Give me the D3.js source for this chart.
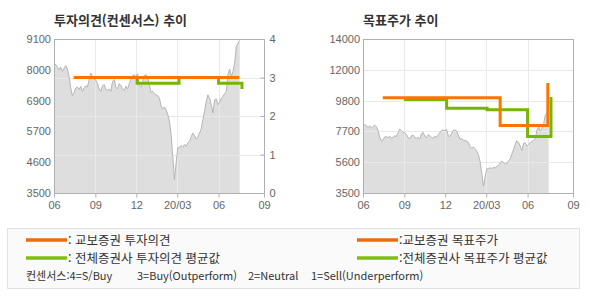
<!DOCTYPE html>
<html lang="ko">
<head>
<meta charset="utf-8">
<script src="https://cdn.jsdelivr.net/npm/d3@7"></script>
<style>
body { margin: 0; background: #fff; }
svg text { font-family: "Liberation Sans", Arial, sans-serif; }
svg .kr { font-family: "Noto Sans CJK KR", "Noto Sans", sans-serif; }
.axis path { display: none; }
.axis text { fill: #666; font-size: 11px; }
</style>
</head>
<body>
<svg id="chart" width="590" height="300"></svg>
<script>
// --- data ---
var priceStart = "2019-06-01";
var priceStepDays = 3.72;
var priceValues = [
  8230, 8170, 8080, 7980, 8080, 7920, 8040, 8130, 8010, 7740,
  7320, 7040, 7140, 7320, 7350, 7260, 7380, 7200, 7320, 7400,
  7350, 7620, 7860, 7740, 7640, 7600, 7480, 7280, 7200, 7400,
  7440, 7280, 7230, 7280, 7200, 7560, 7620, 7350, 7280, 7480,
  7400, 7280, 7230, 7380, 7280, 7480, 7640, 7770, 7800, 7740,
  7840, 7400, 7350, 7560, 7770, 7800, 7720, 7440, 7160, 7200,
  7110, 7070, 7040, 6950, 6680, 6550, 6630, 6530, 6350, 6110,
  5620, 4830, 3980, 4590, 5140, 5170, 5220, 5170, 5260, 5200,
  5320, 5380, 5540, 5680, 5580, 5460, 5540, 5680, 5830, 6170,
  6470, 6830, 7070, 6950, 6710, 6410, 6890, 6920, 6710, 6800,
  6950, 7010, 7110, 7200, 7800, 8010, 7740, 7920, 8230, 8830,
  8950, 9050
];

// 투자의견 (rating, 1-4)
var kyoboRatingDates = ["2019-07-15", "2020-07-17"];
var kyoboRatingValues = [3, 3];
var consRatingDates = ["2019-07-15", "2019-12-03", "2020-03-05", "2020-06-01", "2020-07-23"];
var consRatingValues = [3, 2.85, 3, 2.85, 2.7];

// 목표주가 (target price)
var kyoboTargetDates = ["2019-07-15", "2020-04-01", "2020-07-16"];
var kyoboTargetValues = [10000, 8100, 11000];
var consTargetDates = ["2019-08-31", "2019-12-04", "2020-03-03", "2020-06-01", "2020-07-23"];
var consTargetValues = [9880, 9270, 9180, 7360, 10040];

// axes
var xDomain = ["2019-06-01", "2020-09-10"];
var xTickDates = ["2019-06-01", "2019-09-01", "2019-12-01", "2020-03-01", "2020-06-01", "2020-09-10"];
var xTickLabels = ["06", "09", "12", "20/03", "06", "09"];
var priceTicks = [3500, 4620, 5740, 6860, 7980, 9100];
var priceTickLabels = ["3500", "4600", "5700", "6900", "8000", "9100"];
var ratingTicks = [0, 1, 2, 3, 4];
var targetTicks = [3500, 5600, 7700, 9800, 11900, 14000];
var targetTickLabels = ["3500", "5600", "7700", "9800", "12000", "14000"];

var orange = "#ff7400", green = "#76b600";
var parse = d3.timeParse("%Y-%m-%d");

var t0 = parse(priceStart);
var price = priceValues.map(function(v, i) {
  return { date: new Date(+t0 + i * priceStepDays * 864e5), value: v };
});
function series(dates, values) {
  return dates.map(function(d, i) { return { date: parse(d), value: values[i] }; });
}

var svg = d3.select("#chart");

function panel(opt) {
  var g = svg.append("g");
  var x = d3.scaleTime().domain(xDomain.map(parse)).range([opt.x0, opt.x1]);
  var y = d3.scaleLinear().domain(opt.yDomain).range([opt.y1, opt.y0]);

  g.append("text").attr("class", "kr")
    .attr("x", opt.x0).attr("y", 25)
    .attr("font-size", 13).attr("font-weight", "bold").attr("fill", "#333")
    .text(opt.title);

  // price area
  g.append("path").datum(price)
    .attr("fill", "#dedede")
    .attr("d", d3.area().x(function(d) { return x(d.date); })
      .y0(opt.y1).y1(function(d) { return y(d.value); }));

  // grid
  g.append("g").selectAll("line").data(opt.gridY).join("line")
    .attr("x1", opt.x0).attr("x2", opt.x1)
    .attr("y1", function(d) { return Math.round(opt.gridScale(d)) + 0.5; })
    .attr("y2", function(d) { return Math.round(opt.gridScale(d)) + 0.5; })
    .attr("stroke", "#e9e9e9");
  g.append("g").selectAll("line").data(xTickDates.map(parse)).join("line")
    .attr("x1", function(d) { return Math.round(x(d)) + 0.5; })
    .attr("x2", function(d) { return Math.round(x(d)) + 0.5; })
    .attr("y1", opt.y0).attr("y2", opt.y1)
    .attr("stroke", "#e9e9e9");

  g.append("path").datum(price)
    .attr("fill", "none").attr("stroke", "#b5b5b5").attr("stroke-width", 1)
    .attr("d", d3.line().x(function(d) { return x(d.date); })
      .y(function(d) { return y(d.value); }));

  // frame
  g.append("rect")
    .attr("x", opt.x0 + 0.5).attr("y", opt.y0 + 0.5)
    .attr("width", opt.x1 - opt.x0).attr("height", opt.y1 - opt.y0)
    .attr("fill", "none").attr("stroke", "#b0b0b0");

  // axes
  var xa = g.append("g").attr("class", "axis")
    .attr("transform", "translate(0," + (opt.y1 + 0.5) + ")")
    .call(d3.axisBottom(x).tickValues(xTickDates.map(parse))
      .tickFormat(function(d, i) { return xTickLabels[i]; })
      .tickSize(4).tickPadding(4));
  xa.selectAll("line").attr("stroke", "#b0b0b0");

  g.append("g").attr("class", "axis")
    .attr("transform", "translate(" + (opt.x0 - 3) + ",0)")
    .call(d3.axisLeft(y).tickValues(opt.yTicks)
      .tickFormat(function(d, i) { return opt.yLabels[i]; })
      .tickSize(0).tickPadding(0));

  // step lines
  var step = d3.line().curve(d3.curveStepAfter)
    .x(function(d) { return x(d.date); })
    .y(function(d) { return opt.stepScale(d.value); });
  g.append("path").datum(opt.cons)
    .attr("fill", "none").attr("stroke", green).attr("stroke-width", 3)
    .attr("d", step);
  g.append("path").datum(opt.kyobo)
    .attr("fill", "none").attr("stroke", orange).attr("stroke-width", 3)
    .attr("d", step);

  return { g: g, x: x, y: y };
}

// left: 투자의견
var yRating = d3.scaleLinear().domain([0, 4]).range([193, 39]);
var left = panel({
  title: "투자의견(컨센서스) 추이",
  x0: 54, x1: 264, y0: 39, y1: 193,
  yDomain: [3500, 9100], yTicks: priceTicks, yLabels: priceTickLabels,
  gridY: ratingTicks, gridScale: yRating, stepScale: yRating,
  kyobo: series(kyoboRatingDates, kyoboRatingValues),
  cons: series(consRatingDates, consRatingValues)
});
var ra = left.g.append("g").attr("class", "axis")
  .attr("transform", "translate(264.5,0)")
  .call(d3.axisRight(yRating).tickValues(ratingTicks).tickFormat(d3.format("d"))
    .tickSize(-4).tickPadding(5));
ra.selectAll("line").attr("stroke", "#b0b0b0");

// right: 목표주가
var yTarget = d3.scaleLinear().domain([3500, 14000]).range([193, 39]);
panel({
  title: "목표주가 추이",
  x0: 363, x1: 573, y0: 39, y1: 193,
  yDomain: [3500, 14000], yTicks: targetTicks, yLabels: targetTickLabels,
  gridY: targetTicks, gridScale: yTarget, stepScale: yTarget,
  kyobo: series(kyoboTargetDates, kyoboTargetValues),
  cons: series(consTargetDates, consTargetValues)
});

// legend
var lg = svg.append("g");
lg.append("rect").attr("x", 7.5).attr("y", 228.5).attr("width", 572).attr("height", 60)
  .attr("fill", "#fafafa").attr("stroke", "#e2e2e2");
var legendItems = [
  { x: 26, y: 240, color: "#ec6c0c", text: ": 교보증권 투자의견" },
  { x: 26, y: 258, color: "#80bf10", text: ": 전체증권사 투자의견 평균값" },
  { x: 357, y: 240, color: "#ec6c0c", text: ":교보증권 목표주가" },
  { x: 357, y: 258, color: "#80bf10", text: ":전체증권사 목표주가 평균값" }
];
legendItems.forEach(function(d) {
  lg.append("line").attr("x1", d.x).attr("x2", d.x + 41).attr("y1", d.y).attr("y2", d.y)
    .attr("stroke", d.color).attr("stroke-width", 3.5);
  lg.append("text").attr("class", "kr").attr("x", d.x + 42).attr("y", d.y).attr("dy", "0.36em")
    .attr("font-size", 12.5).attr("fill", "#333").text(d.text);
});
var noteParts = [
  { x: 26, text: "컨센서스:4=S/Buy" },
  { x: 137, text: "3=Buy(Outperform)" },
  { x: 248, text: "2=Neutral" },
  { x: 311, text: "1=Sell(Underperform)" }
];
lg.selectAll("text.note").data(noteParts).join("text")
  .attr("class", "note kr").attr("x", function(d) { return d.x; }).attr("y", 276).attr("dy", "0.36em")
  .attr("font-size", 11).attr("fill", "#333").text(function(d) { return d.text; });
</script>
</body>
</html>
